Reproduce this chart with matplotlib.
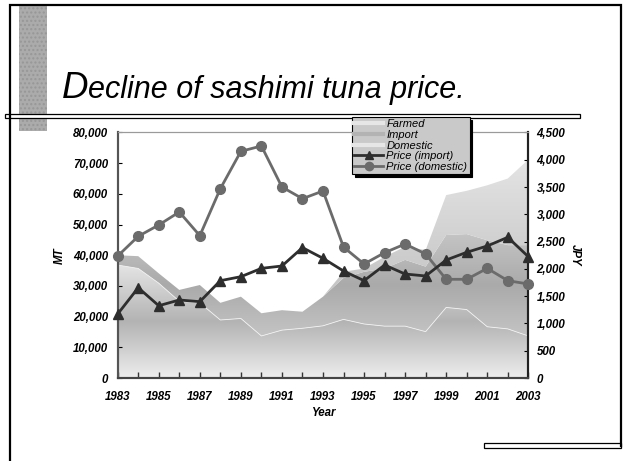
import numpy as np
import matplotlib
matplotlib.use("Agg")
import matplotlib.pyplot as plt
from matplotlib.colors import LinearSegmentedColormap
from matplotlib.lines import Line2D
from matplotlib.patches import Rectangle
from matplotlib.ticker import FuncFormatter, MultipleLocator, FixedLocator

plt.rcParams["font.family"] = ["Liberation Sans", "DejaVu Sans"]

years = np.arange(1983, 2004)
year_labels = years[::2]

# stacked volumes in MT
domestic = np.array([36800, 35700, 30900, 25000, 24500, 18900, 19400, 13700, 15600, 16200,
                     17000, 19100, 17600, 16900, 16900, 15100, 23000, 22300, 16700, 16000, 13700])
import_top = np.array([40000, 39700, 34100, 28700, 30300, 24500, 26500, 21100, 22100, 21600,
                       26500, 32600, 34600, 35700, 38500, 36300, 46600, 46900, 44900, 43300, 43300])
total_top = np.array([40000, 39700, 34100, 28700, 30300, 24500, 26500, 21100, 22100, 21600,
                      26500, 34600, 35700, 39500, 42800, 41700, 59600, 61000, 62800, 65000, 71200])
imported = import_top - domestic
farmed = total_top - import_top

# prices in JPY
price_import = [1173, 1655, 1325, 1430, 1399, 1784, 1857, 2010, 2053, 2390,
                2194, 1961, 1784, 2071, 1906, 1870, 2163, 2304, 2420, 2579, 2224]
price_domestic = [2236, 2597, 2805, 3043, 2609, 3470, 4155, 4253, 3501, 3287,
                  3428, 2400, 2090, 2297, 2456, 2273, 1809, 1809, 2010, 1784, 1723]

fig = plt.figure(figsize=(6.24, 4.61), dpi=100)

# slide decorations, drawn in pixel coordinates
deco = fig.add_axes([0, 0, 1, 1])
deco.set_xlim(0, 624)
deco.set_ylim(461, 0)
deco.axis("off")
deco.add_patch(Rectangle((19, 5), 28, 126, facecolor="#ababab", edgecolor="#979797",
                         hatch="....", lw=0))
deco.plot([10, 10, 621, 621], [461, 5, 5, 446], color="black", lw=1.6, solid_joinstyle="miter")
deco.add_patch(Rectangle((5, 114), 575, 4, facecolor="white", edgecolor="black", lw=0.9))
deco.add_patch(Rectangle((484, 443), 137, 5, facecolor="white", edgecolor="black", lw=0.9))

t1 = deco.text(62, 98, "D", fontsize=26.5, style="italic", va="baseline")
renderer = fig.canvas.get_renderer()
bb = t1.get_window_extent(renderer)
deco.text(bb.x1, 98, "ecline of sashimi tuna price.", fontsize=22, style="italic",
          va="baseline")

ax = fig.add_axes([117.7 / 624, 1 - 378 / 461, (528.3 - 117.7) / 624, (378 - 132.5) / 461])
ax2 = ax.twinx()


def grad_fill(x, y0, y1, colors, z):
    poly = ax.fill_between(x, y0, y1, facecolor="none", lw=0, zorder=z)
    lo, hi = np.min(y0), np.max(y1)
    cmap = LinearSegmentedColormap.from_list("g", colors)
    im = ax.imshow(np.linspace(0, 1, 256).reshape(-1, 1), extent=[x[0], x[-1], lo, hi],
                   origin="lower", aspect="auto", cmap=cmap, zorder=z)
    im.set_clip_path(poly.get_paths()[0], transform=ax.transData)


zero = np.zeros(len(years))
grad_fill(years, zero, domestic, ["#ededed", "#b3b3b3", "#e4e4e4"], 1)
grad_fill(years, domestic, import_top, ["#c4c4c4", "#aaaaaa", "#c4c4c4"], 1)
grad_fill(years, import_top, total_top, ["#bfbfbf", "#d2d2d2", "#e4e4e4"], 1)
ax.plot(years, domestic, color="#f2f2f2", lw=0.6, zorder=2)

ax.set_xlim(1983, 2003)
ax.set_ylim(0, 80000)
ax2.set_ylim(0, 4500)

ax2.plot(years, price_import, color="#2e2e2e", lw=2, marker="^", ms=7, clip_on=False, zorder=5)
ax2.plot(years, price_domestic, color="#6b6b6b", lw=2, marker="o", ms=7, clip_on=False, zorder=4)

fs = 8.3
lab = dict(fontsize=fs, fontweight="bold", style="italic")
ax.xaxis.set_major_locator(FixedLocator(year_labels))
ax.xaxis.set_minor_locator(MultipleLocator(1))
ax.yaxis.set_major_locator(MultipleLocator(10000))
ax2.yaxis.set_major_locator(MultipleLocator(500))
ax.yaxis.set_major_formatter(FuncFormatter(lambda v, p: f"{int(v):,}"))
ax2.yaxis.set_major_formatter(FuncFormatter(lambda v, p: f"{int(v):,}"))
ax.tick_params(axis="x", which="both", direction="in", length=4, width=1, pad=9, colors="#333333",
               labelcolor="black")
ax.tick_params(axis="y", direction="in", length=3, width=0.8, pad=7, labelcolor="black")
ax2.tick_params(axis="y", direction="in", length=3, width=0.8, pad=6, labelcolor="black")
for a in (ax, ax2):
    for t in a.get_xticklabels() + a.get_yticklabels():
        t.set_fontsize(fs)
        t.set_fontweight("bold")
        t.set_style("italic")

ax.set_ylabel("MT", labelpad=5, **lab)
ax2.set_ylabel("JPY", rotation=270, labelpad=11, **lab)
ax.set_xlabel("Year", labelpad=3, **lab)

for a in (ax, ax2):
    a.spines["top"].set_color("#9a9a9a")
    a.spines["top"].set_linewidth(0.8)
    a.spines["left"].set_color("#555555")
    a.spines["left"].set_linewidth(1.5)
    a.spines["bottom"].set_color("#444444")
    a.spines["bottom"].set_linewidth(1.5)
    a.spines["right"].set_color("#222222")
    a.spines["right"].set_linewidth(1.5)

handles = [
    Line2D([], [], color="#e6e6e6", lw=3),
    Line2D([], [], color="#b3b3b3", lw=3),
    Line2D([], [], color="#e6e6e6", lw=3),
    Line2D([], [], color="#2e2e2e", lw=2, marker="^", ms=6),
    Line2D([], [], color="#6b6b6b", lw=2, marker="o", ms=6),
]
labels = ["Farmed", "Import", "Domestic", "Price (import)", "Price (domestic)"]
leg = fig.legend(handles, labels, loc="upper left", bbox_to_anchor=(352 / 624, 1 - 117 / 461),
                 prop={"size": 8, "style": "italic"}, labelspacing=0.06, handlelength=2.6,
                 handletextpad=0.3, borderpad=0.2, borderaxespad=0, fancybox=False,
                 shadow={"color": "black", "alpha": 1}, framealpha=1)
leg.get_frame().set_facecolor("#c9c9c9")
leg.get_frame().set_edgecolor("black")
leg.get_frame().set_linewidth(0.8)
leg.set_zorder(10)

fig.savefig("out.png", dpi=100)
